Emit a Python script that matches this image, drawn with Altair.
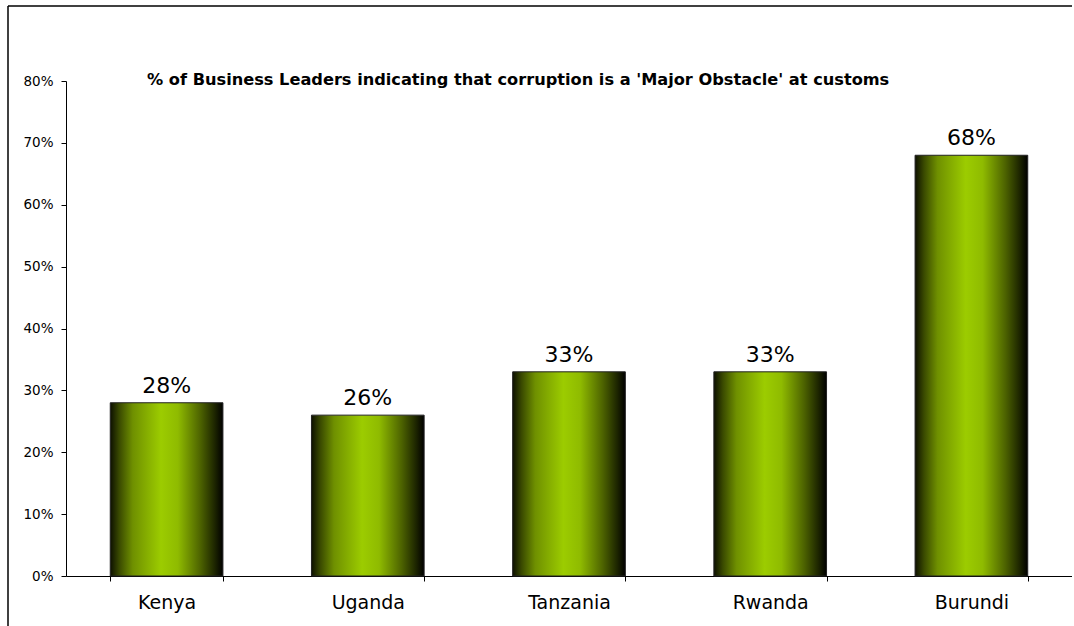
import altair as alt
import pandas as pd

countries = ["Kenya", "Uganda", "Tanzania", "Rwanda", "Burundi"]
shares = [0.28, 0.26, 0.33, 0.33, 0.68]
labels = ["28%", "26%", "33%", "33%", "68%"]
title_text = "% of Business Leaders indicating that corruption is a 'Major Obstacle' at customs"
y_ticks = [0, 0.1, 0.2, 0.3, 0.4, 0.5, 0.6, 0.7, 0.8]

df = pd.DataFrame({"country": countries, "share": shares, "label": labels})

FONT = "DejaVu Sans"
W, H = 1006, 495

grad = alt.LinearGradient(
    gradient="linear",
    x1=0, x2=1, y1=0, y2=0,
    stops=[
        alt.GradientStop(color="#0d1000", offset=0),
        alt.GradientStop(color="#3a4a00", offset=0.08),
        alt.GradientStop(color="#6f9000", offset=0.2),
        alt.GradientStop(color="#9ccc00", offset=0.45),
        alt.GradientStop(color="#8fbb00", offset=0.6),
        alt.GradientStop(color="#4d6300", offset=0.8),
        alt.GradientStop(color="#1c2400", offset=0.93),
        alt.GradientStop(color="#000000", offset=1),
    ],
)

x_enc = alt.X(
    "country:N", sort=countries, title=None,
    scale=alt.Scale(paddingInner=0.44, paddingOuter=0.22),
    axis=alt.Axis(
        labelAngle=0, labelFontSize=19, labelFont=FONT, labelColor="#000",
        labelPadding=12, tickBand="extent", tickSize=5, tickColor="#000",
        domainColor="#000", grid=False,
    ),
)
y_enc = alt.Y(
    "share:Q", title=None,
    scale=alt.Scale(domain=[0, 0.8], nice=False),
    axis=alt.Axis(
        values=y_ticks, format=".0%", labelFontSize=13.5, labelFont=FONT,
        labelColor="#000", labelPadding=8, tickSize=5, tickColor="#000",
        domainColor="#000", grid=False,
    ),
)

bars = alt.Chart(df).mark_bar(
    color=grad, stroke="#222", strokeWidth=1
).encode(x=x_enc, y=y_enc)

text = alt.Chart(df).mark_text(
    font=FONT, fontSize=22, color="#000", dy=-10, baseline="alphabetic"
).encode(
    x=alt.X("country:N", sort=countries),
    y=alt.Y("share:Q"),
    text="label:N",
)

title = alt.Chart(pd.DataFrame({"t": [title_text]})).mark_text(
    font=FONT, fontSize=16.2, fontWeight="bold", align="left",
    baseline="alphabetic", color="#000"
).encode(x=alt.value(81), y=alt.value(4), text="t:N")

frame_top = alt.Chart(pd.DataFrame({"a": [0]})).mark_rule(
    color="#000", strokeWidth=1.5
).encode(x=alt.value(-58), x2=alt.value(W + 10), y=alt.value(-75))
frame_left = alt.Chart(pd.DataFrame({"a": [0]})).mark_rule(
    color="#000", strokeWidth=1.5
).encode(x=alt.value(-58), y=alt.value(-75), y2=alt.value(H + 60))

chart = alt.layer(frame_top, frame_left, bars, text, title).properties(
    width=W, height=H,
    background="#ffffff",
    autosize=alt.AutoSizeParams(type="none"),
    padding={"left": 66, "top": 81, "right": 0, "bottom": 50},
).configure_view(stroke=None).configure_axis(grid=False)

chart.save("out.html", embed_options={"renderer": "svg", "actions": False})
